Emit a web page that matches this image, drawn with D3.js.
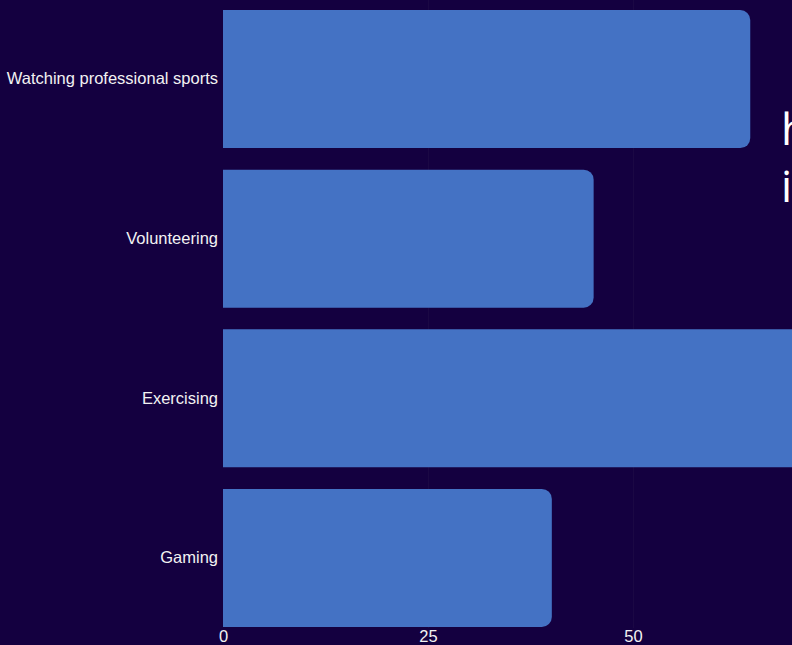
<!DOCTYPE html>
<html>
<head>
<meta charset="utf-8">
<script src="https://cdn.jsdelivr.net/npm/d3@7"></script>
<style>
  html, body { margin: 0; padding: 0; background: #140040; overflow: hidden; }
  svg { display: block; }
</style>
</head>
<body>
<div id="chart"></div>
<script>
// data
var activities = ["Watching professional sports", "Volunteering", "Exercising", "Gaming"];
var values = [64.3, 45.2, 78, 40.1];
var tickValues = [0, 25, 50];
var titleLines = ["how people spend", "in their free time"];

var width = 792, height = 645;

var svg = d3.select("#chart")
    .append("svg")
    .attr("width", width)
    .attr("height", height)
    .style("background", "#140040");

// scales
var x = d3.scaleLinear()
    .domain([0, 75])
    .range([223, 838]);

var y = d3.scaleBand()
    .domain(activities)
    .range([0, 637])
    .paddingInner(0.135)
    .paddingOuter(0.0625);

// grid lines (very faint)
svg.append("g")
    .selectAll("line")
    .data(tickValues.slice(1))
    .enter()
    .append("line")
    .attr("x1", d => x(d) + 0.5)
    .attr("x2", d => x(d) + 0.5)
    .attr("y1", 0)
    .attr("y2", 628)
    .style("stroke", "#1b0844")
    .style("stroke-width", 1);

// bars with rounded right end
var r = 10;
function barPath(d, i) {
    var x0 = x(0), x1 = x(d), y0 = y(activities[i]), h = y.bandwidth();
    var rr = Math.min(r, (x1 - x0) / 2);
    return "M" + x0 + "," + y0 +
        "H" + (x1 - rr) +
        "A" + rr + "," + rr + " 0 0 1 " + x1 + "," + (y0 + rr) +
        "V" + (y0 + h - rr) +
        "A" + rr + "," + rr + " 0 0 1 " + (x1 - rr) + "," + (y0 + h) +
        "H" + x0 + "Z";
}

svg.append("g")
    .selectAll("path")
    .data(values)
    .enter()
    .append("path")
    .attr("d", barPath)
    .style("fill", "#4472c4");

// y axis labels
var yAxis = svg.append("g")
    .attr("transform", "translate(223,0)")
    .call(d3.axisLeft(y).tickSize(0).tickPadding(5));
yAxis.select(".domain").remove();
yAxis.selectAll("text")
    .style("font-family", "'Liberation Sans', Arial, sans-serif")
    .style("font-size", "16.5px")
    .style("fill", "#f2f2f2");

// x axis labels
var xAxis = svg.append("g")
    .attr("transform", "translate(0,629)")
    .call(d3.axisBottom(x).tickValues(tickValues).tickSize(0).tickPadding(1));
xAxis.select(".domain").remove();
xAxis.selectAll("text")
    .style("font-family", "'Liberation Sans', Arial, sans-serif")
    .style("font-size", "16.5px")
    .style("fill", "#f2f2f2");

// title, cut off at the right edge as in the original
svg.append("g")
    .selectAll("text")
    .data(titleLines)
    .enter()
    .append("text")
    .attr("x", 781)
    .attr("y", (d, i) => 145 + i * 57)
    .style("font-family", "'Open Sans', 'Noto Sans', sans-serif")
    .style("font-weight", 400)
    .style("font-size", "44px")
    .style("fill", "#ffffff")
    .text(d => d);
</script>
</body>
</html>
